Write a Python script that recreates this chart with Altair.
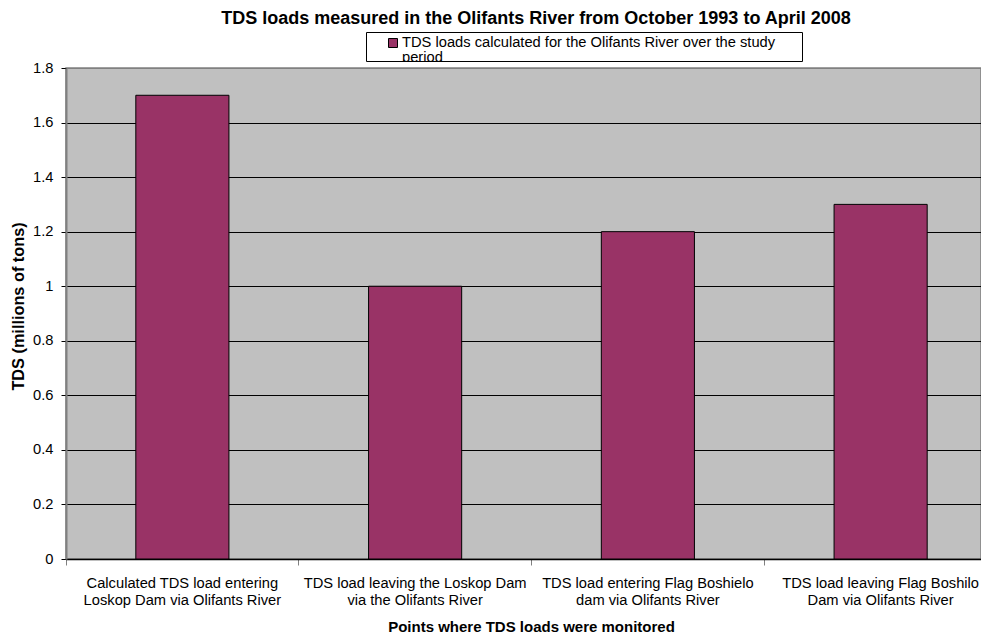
import altair as alt
import pandas as pd

# ---- data ----
categories = [
    "Calculated TDS load entering|Loskop Dam via Olifants River",
    "TDS load leaving the Loskop Dam|via the Olifants River",
    "TDS load entering Flag Boshielo|dam via Olifants River",
    "TDS load leaving Flag Boshilo|Dam via Olifants River",
]
tds_values = [1.7, 1.0, 1.2, 1.3]
y_ticks = [0, 0.2, 0.4, 0.6, 0.8, 1.0, 1.2, 1.4, 1.6, 1.8]
legend_lines = ["TDS loads calculated for the Olifants River over the study", "period"]
title_text = "TDS loads measured in the Olifants River from October 1993 to April 2008"
x_title = "Points where TDS loads were monitored"
y_title = "TDS (millions of tons)"

# ---- style ----
BAR_COLOR = "#993366"
PLOT_BG = "#C0C0C0"
FONT = "Arial, Liberation Sans, sans-serif"
PLOT_W = 915
PLOT_H = 491
BAND_RANGE = 931

df = pd.DataFrame({"point": categories, "tds": tds_values})

x_enc = alt.X(
    "point:N",
    sort=categories,
    scale=alt.Scale(range=[0, BAND_RANGE], paddingInner=0, paddingOuter=0),
    axis=alt.Axis(
        title=x_title,
        labelExpr="split(datum.label, '|')",
        bandPosition=0,
        labelAngle=0,
        labelFont=FONT,
        labelFontSize=14.7,
        labelColor="black",
        labelLineHeight=17,
        labelPadding=10,
        labelLimit=400,
        labelOverlap=False,
        tickSize=6,
        tickColor="#808080",
        domainColor="black",
        domainWidth=1.5,
        grid=False,
        titleFont=FONT,
        titleFontSize=15,
        titleFontWeight="bold",
        titleColor="black",
        titleX=465,
        titleY=67,
        titleBaseline="middle",
        titleAlign="center",
    ),
)

y_enc = alt.Y(
    "tds:Q",
    scale=alt.Scale(domain=[0, 1.8], nice=False, zero=True),
    axis=alt.Axis(
        title=y_title,
        values=y_ticks,
        format="~g",
        grid=True,
        gridColor={"condition": {"test": "datum.value > 1.75", "value": "#808080"}, "value": "black"},
        gridWidth=1,
        domainColor="#808080",
        domainWidth=2,
        tickColor="black",
        tickSize=5,
        labelPadding=8,
        labelFont=FONT,
        labelFontSize=14.7,
        labelColor="black",
        titleFont=FONT,
        titleFontSize=16.3,
        titleFontWeight="bold",
        titleColor="black",
        titleAngle=270,
        titleX=-48,
        titleY=238,
        titleBaseline="middle",
        titleAlign="center",
    ),
)

bars = alt.Chart(df).mark_bar(
    width=alt.RelativeBandSize(0.4), fill=BAR_COLOR, stroke="black", strokeWidth=1
).encode(x=x_enc, y=y_enc)

# ---- legend box (as in the original, second line is cut by the frame) ----
leg_df = pd.DataFrame({"line1": [legend_lines[0]], "line2": [legend_lines[1]]})
leg_box = alt.Chart(leg_df).mark_rect(fill="white", stroke="black", strokeWidth=1).encode(
    x=alt.value(300.5), x2=alt.value(736.5), y=alt.value(-35.5), y2=alt.value(-6.5)
)
leg_swatch = alt.Chart(leg_df).mark_rect(fill=BAR_COLOR, stroke="black", strokeWidth=1).encode(
    x=alt.value(322.5), x2=alt.value(331.5), y=alt.value(-29.5), y2=alt.value(-20.5)
)
leg_text1 = alt.Chart(leg_df).mark_text(
    align="left", baseline="middle", font=FONT, fontSize=14.7, color="black"
).encode(x=alt.value(336), y=alt.value(-25), text="line1:N")
leg_text2 = alt.Chart(leg_df).mark_text(
    align="left", baseline="middle", font=FONT, fontSize=14.7, color="black"
).encode(x=alt.value(336), y=alt.value(-10), text="line2:N")
leg_cover = alt.Chart(leg_df).mark_rect(fill="white").encode(
    x=alt.value(330), x2=alt.value(420), y=alt.value(-6), y2=alt.value(-1)
)

chart = alt.layer(bars, leg_box, leg_swatch, leg_text1, leg_text2, leg_cover).properties(
    width=PLOT_W,
    height=PLOT_H,
    padding={"left": 58, "top": 60, "right": 0, "bottom": 75},
    autosize=alt.AutoSizeParams(type="none"),
    background="white",
    title=alt.TitleParams(
        title_text,
        font=FONT,
        fontSize=18,
        fontWeight="bold",
        color="black",
        anchor="middle",
        offset=4.5,
        dx=12.5,
    ),
).configure_view(fill=PLOT_BG, stroke="#808080", strokeWidth=1.5)

chart.save("out.html", embed_options={"renderer": "svg", "actions": False})
